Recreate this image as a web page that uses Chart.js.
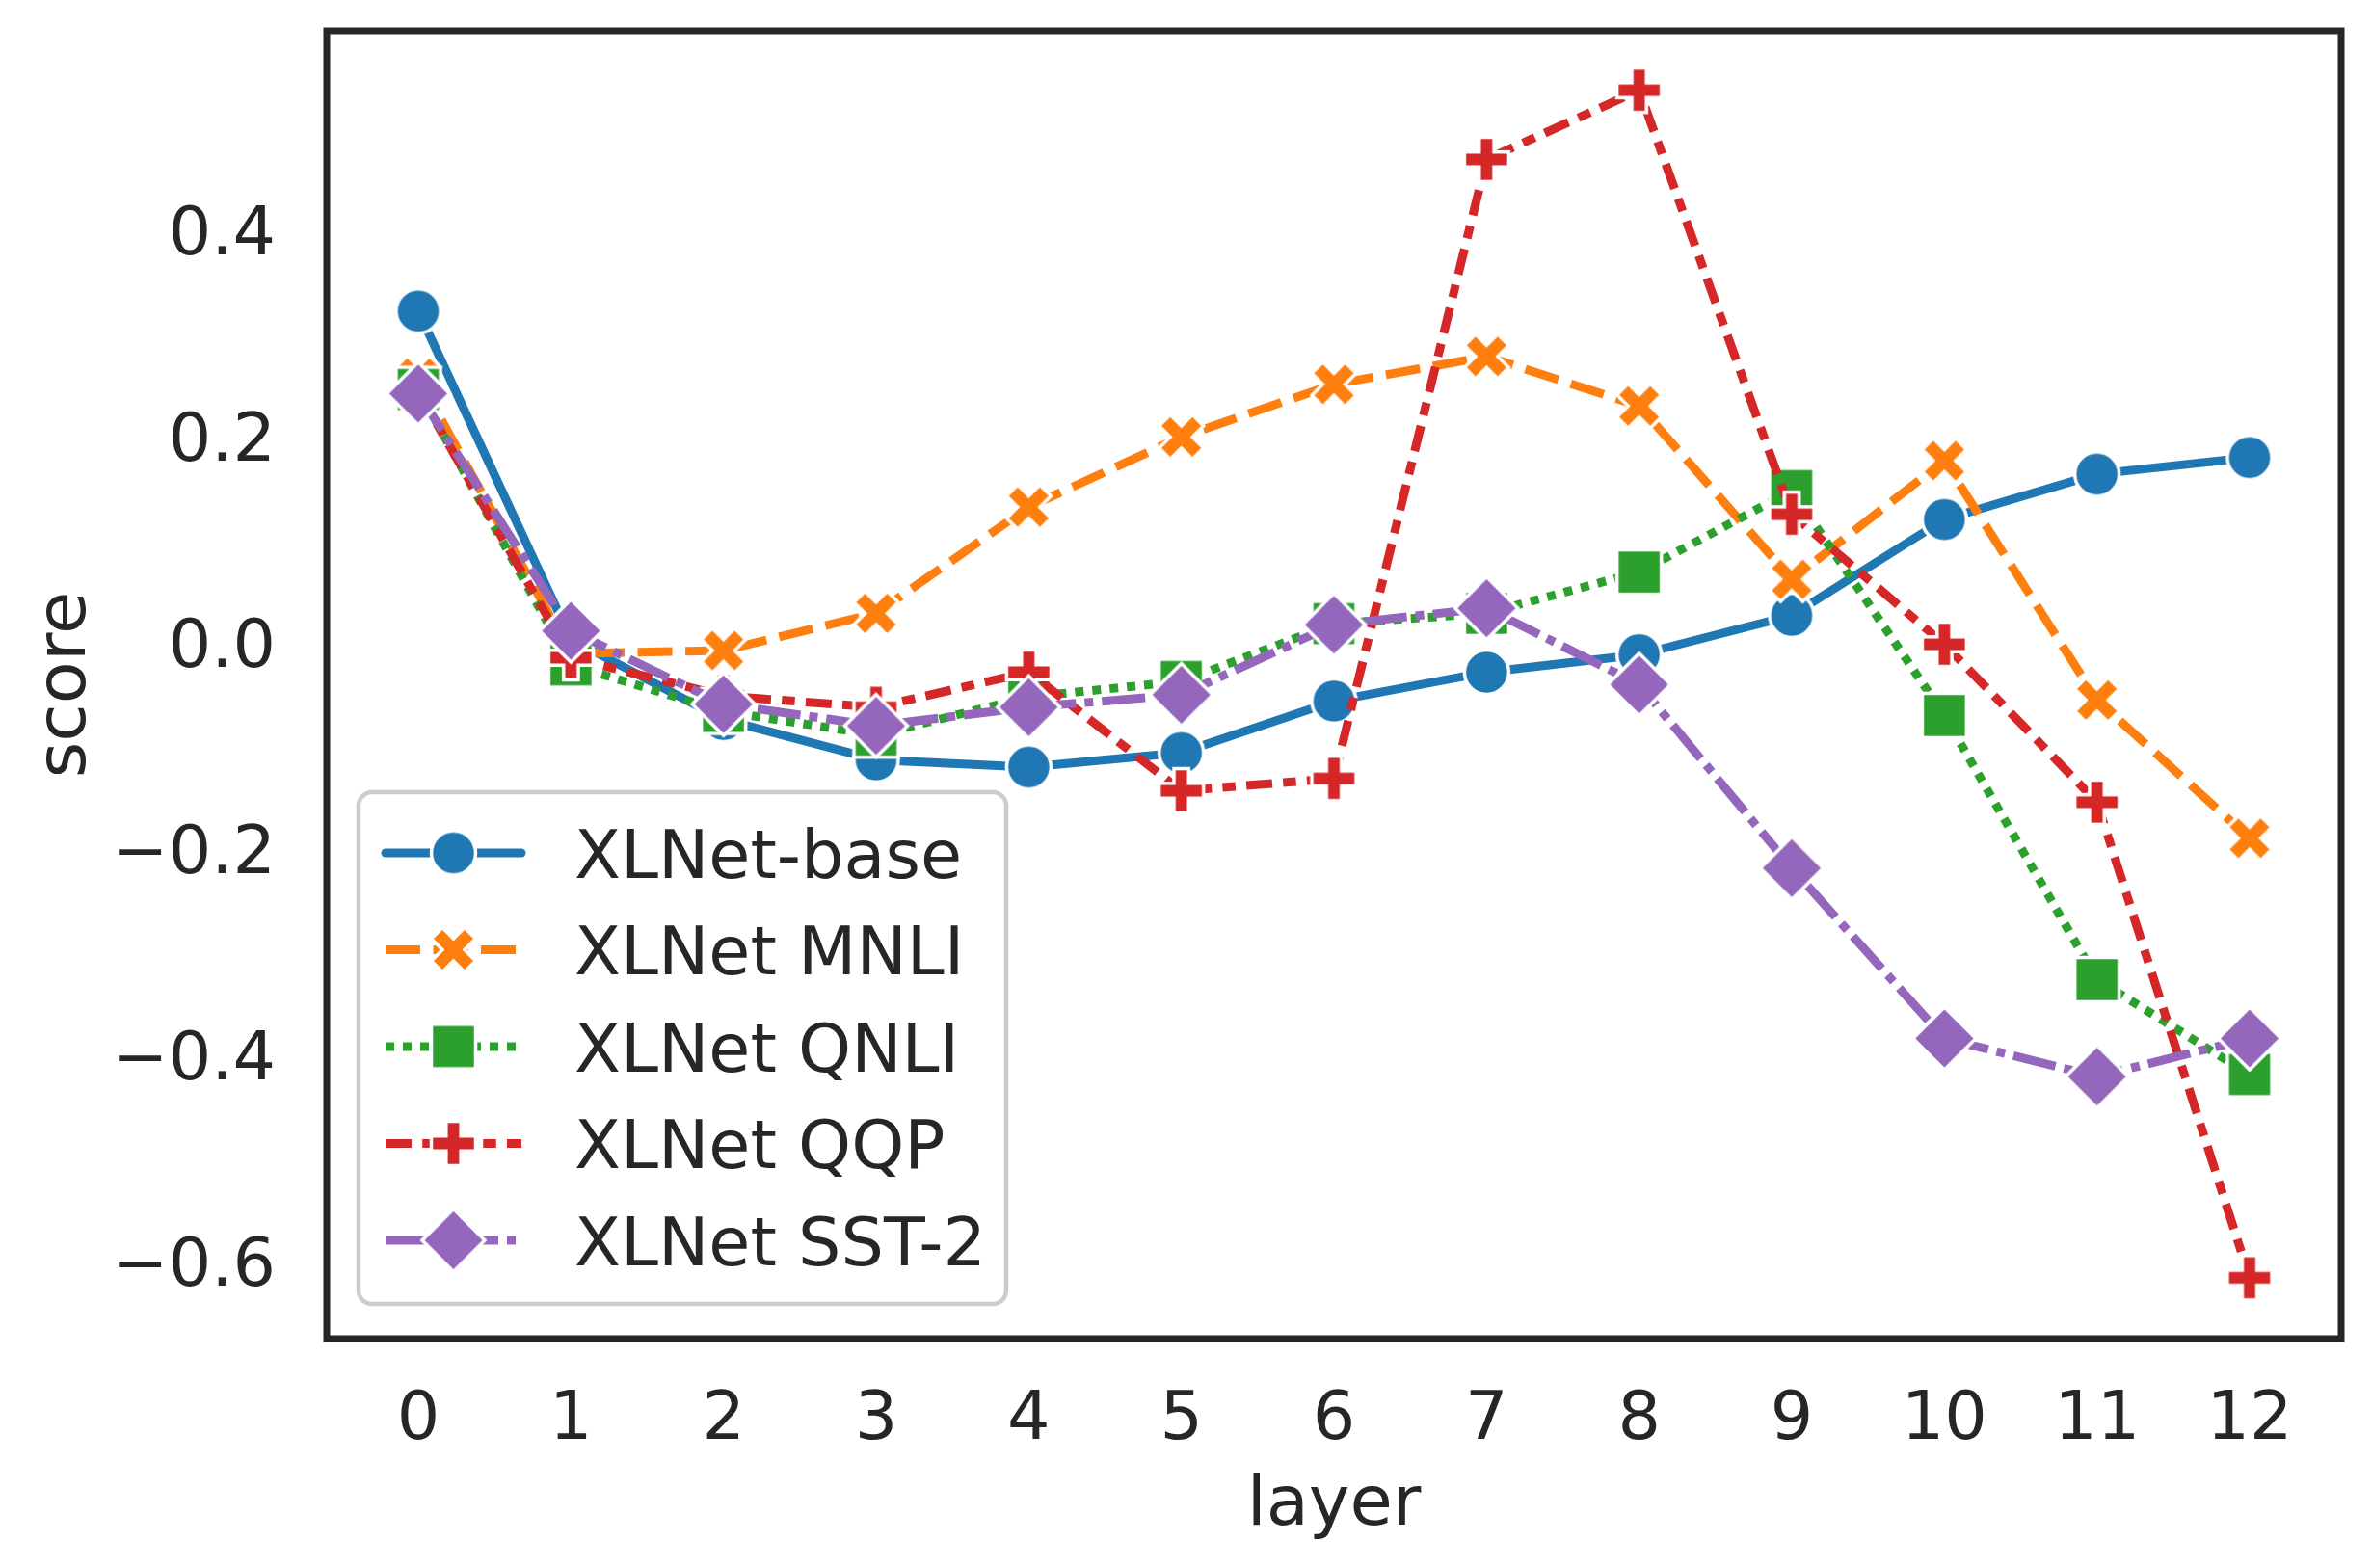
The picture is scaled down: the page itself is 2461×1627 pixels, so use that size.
<!DOCTYPE html>
<html>
<head>
<meta charset="utf-8">
<script src="https://cdn.jsdelivr.net/npm/chart.js@4.4.1/dist/chart.umd.min.js"></script>
<style>
  html, body { margin: 0; padding: 0; background: #fff; }
  canvas { display: block; }
</style>
</head>
<body>
<canvas id="chart" width="2461" height="1627" style="width:2461px;height:1627px"></canvas>
<script>
// values
const layers = [0, 1, 2, 3, 4, 5, 6, 7, 8, 9, 10, 11, 12];
const xlnetBase = [0.328, 0.010, -0.068, -0.107, -0.114, -0.100, -0.050, -0.022, -0.005, 0.033, 0.126, 0.170, 0.186];
const xlnetMnli = [0.263, -0.004, -0.001, 0.035, 0.138, 0.206, 0.257, 0.284, 0.236, 0.068, 0.183, -0.049, -0.183];
const xlnetQnli = [0.252, -0.015, -0.060, -0.083, -0.046, -0.031, 0.025, 0.035, 0.075, 0.154, -0.064, -0.320, -0.412];
const xlnetQqp = [0.250, -0.008, -0.045, -0.056, -0.022, -0.137, -0.125, 0.475, 0.542, 0.131, 0.005, -0.148, -0.609];
const xlnetSst2 = [0.248, 0.018, -0.053, -0.074, -0.056, -0.044, 0.024, 0.040, -0.034, -0.212, -0.377, -0.414, -0.377];
const seriesLabels = ['XLNet-base', 'XLNet MNLI', 'XLNet QNLI', 'XLNet QQP', 'XLNet SST-2'];
const xTicks = [0, 1, 2, 3, 4, 5, 6, 7, 8, 9, 10, 11, 12];
const yTicks = [-0.6, -0.4, -0.2, 0.0, 0.2, 0.4];

const TEXT = '#262626';
const FONT = '"DejaVu Sans", sans-serif';
const LW = 9;
const MS = 46;
const EDGE = 3.5;

// filled matplotlib-like markers, drawn once into small canvases
function makeMarker(shape, color) {
  const span = shape === 'diamond' ? MS * Math.SQRT2 : MS;
  const size = Math.ceil(span + EDGE * 2 + 4);
  const c = document.createElement('canvas');
  c.width = size;
  c.height = size;
  const g = c.getContext('2d');
  g.translate(size / 2, size / 2);
  g.scale(MS, MS);
  g.beginPath();
  let pts = null;
  if (shape === 'circle') {
    g.arc(0, 0, 0.5, 0, Math.PI * 2);
  } else if (shape === 'square') {
    g.rect(-0.5, -0.5, 1, 1);
  } else if (shape === 'diamond') {
    pts = [[0, -Math.SQRT1_2], [Math.SQRT1_2, 0], [0, Math.SQRT1_2], [-Math.SQRT1_2, 0]];
  } else if (shape === 'x') {
    pts = [[-1, -2], [0, -1], [1, -2], [2, -1], [1, 0], [2, 1], [1, 2], [0, 1], [-1, 2], [-2, 1], [-1, 0], [-2, -1]]
      .map(p => [p[0] / 4, p[1] / 4]);
  } else if (shape === 'plus') {
    pts = [[-1, -3], [1, -3], [1, -1], [3, -1], [3, 1], [1, 1], [1, 3], [-1, 3], [-1, 1], [-3, 1], [-3, -1], [-1, -1]]
      .map(p => [p[0] / 6, p[1] / 6]);
  }
  if (pts) {
    g.moveTo(pts[0][0], pts[0][1]);
    pts.slice(1).forEach(p => g.lineTo(p[0], p[1]));
    g.closePath();
  }
  g.fillStyle = color;
  g.fill();
  g.lineWidth = EDGE / MS;
  g.lineJoin = 'miter';
  g.strokeStyle = '#ffffff';
  g.stroke();
  return c;
}

const styles = [
  { color: '#1f77b4', shape: 'circle', dash: [], cap: 'round' },
  { color: '#ff7f0e', shape: 'x', dash: [4, 1.5], cap: 'butt' },
  { color: '#2ca02c', shape: 'square', dash: [1, 1], cap: 'butt' },
  { color: '#d62728', shape: 'plus', dash: [3, 1.25, 1.5, 1.25], cap: 'butt' },
  { color: '#9467bd', shape: 'diamond', dash: [5, 1, 1, 1], cap: 'butt' }
];
const seriesValues = [xlnetBase, xlnetMnli, xlnetQnli, xlnetQqp, xlnetSst2];

const datasets = seriesValues.map((vals, i) => {
  const st = styles[i];
  return {
    label: seriesLabels[i],
    data: layers.map((x, k) => ({ x: x, y: vals[k] })),
    borderColor: st.color,
    backgroundColor: st.color,
    borderWidth: LW,
    borderDash: st.dash.map(d => d * LW),
    borderCapStyle: st.cap,
    borderJoinStyle: 'round',
    pointStyle: makeMarker(st.shape, st.color),
    pointRadius: MS / 2,
    pointHoverRadius: MS / 2,
    tension: 0,
    fill: false,
    order: seriesValues.length - i
  };
});

// axes frame on top of the lines
const framePlugin = {
  id: 'frame',
  afterDatasetsDraw(chart) {
    const { ctx, chartArea: a } = chart;
    ctx.save();
    ctx.strokeStyle = TEXT;
    ctx.lineWidth = 7;
    ctx.strokeRect(a.left, a.top, a.right - a.left, a.bottom - a.top);
    ctx.restore();
  }
};

// legend in the lower left corner of the axes, like matplotlib's
const legendPlugin = {
  id: 'boxLegend',
  afterDraw(chart) {
    const ctx = chart.ctx;
    const box = { x: 372, y: 822, w: 672, h: 531, r: 14 };
    const rowTop = 885;
    const rowStep = 100.5;
    ctx.save();
    ctx.beginPath();
    ctx.roundRect(box.x, box.y, box.w, box.h, box.r);
    ctx.fillStyle = 'rgba(255,255,255,0.8)';
    ctx.fill();
    ctx.lineWidth = 4.5;
    ctx.strokeStyle = '#cccccc';
    ctx.stroke();

    chart.data.datasets.forEach((ds, i) => {
      const y = rowTop + i * rowStep;
      ctx.save();
      ctx.beginPath();
      ctx.setLineDash(ds.borderDash);
      ctx.lineCap = ds.borderCapStyle;
      ctx.lineWidth = ds.borderWidth;
      ctx.strokeStyle = ds.borderColor;
      ctx.moveTo(400, y);
      ctx.lineTo(541, y);
      ctx.stroke();
      ctx.restore();
      const m = ds.pointStyle;
      ctx.drawImage(m, 470.5 - m.width / 2, y - m.height / 2);
      ctx.fillStyle = TEXT;
      ctx.font = '70px ' + FONT;
      ctx.textAlign = 'left';
      ctx.textBaseline = 'alphabetic';
      ctx.fillText(ds.label, 596, y + 25.5);
    });
    ctx.restore();
  }
};

const fmt = v => {
  const s = Math.abs(v).toFixed(1);
  return v < -1e-9 ? '\u2212' + s : s;
};

new Chart(document.getElementById('chart'), {
  type: 'line',
  data: { datasets: datasets },
  options: {
    responsive: false,
    animation: false,
    devicePixelRatio: 1,
    events: [],
    layout: { padding: { top: 28, right: 28, left: 0, bottom: 0 } },
    plugins: {
      legend: { display: false },
      tooltip: { enabled: false }
    },
    scales: {
      x: {
        type: 'linear',
        min: -0.6,
        max: 12.6,
        grid: { display: false, drawTicks: false },
        border: { display: false },
        afterBuildTicks: s => { s.ticks = xTicks.map(v => ({ value: v })); },
        afterFit: s => {
          s.height = 238;
          s.paddingLeft = 0;
          s.paddingRight = 0;
        },
        ticks: {
          padding: 44,
          color: TEXT,
          font: { family: FONT, size: 70 },
          maxRotation: 0,
          autoSkip: false,
          callback: v => String(v)
        },
        title: {
          display: true,
          text: 'layer',
          color: TEXT,
          font: { family: FONT, size: 72 },
          padding: { top: 0, bottom: 21 }
        }
      },
      y: {
        type: 'linear',
        min: -0.668,
        max: 0.5996,
        grid: { display: false, drawTicks: false },
        border: { display: false },
        afterBuildTicks: s => { s.ticks = yTicks.map(v => ({ value: v })); },
        afterFit: s => {
          s.width = 339;
          s.paddingTop = 0;
          s.paddingBottom = 0;
        },
        ticks: {
          padding: 53,
          color: TEXT,
          font: { family: FONT, size: 70 },
          callback: v => fmt(v)
        },
        title: {
          display: true,
          text: 'score',
          color: TEXT,
          font: { family: FONT, size: 72 },
          padding: { top: 26, bottom: 0 }
        }
      }
    }
  },
  plugins: [framePlugin, legendPlugin]
});
</script>
</body>
</html>
